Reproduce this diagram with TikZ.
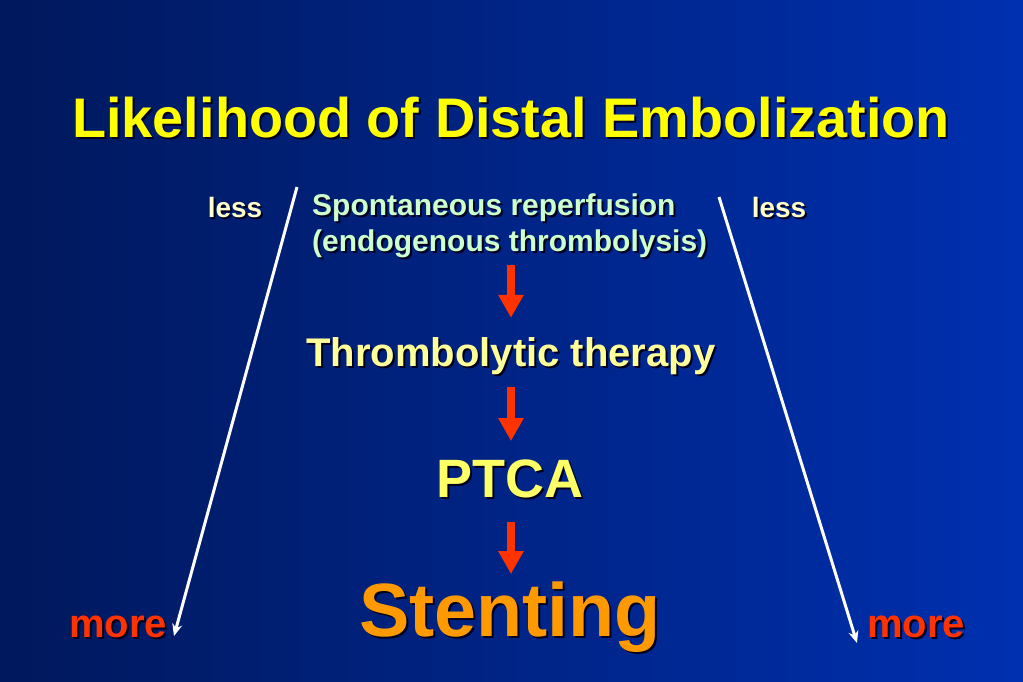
\documentclass[tikz,border=0pt]{standalone}
\usepackage{fontspec}
\setmainfont{Liberation Sans}
\usetikzlibrary{arrows.meta,positioning}
\definecolor{bgleft}{RGB}{0,24,92}
\definecolor{bgright}{RGB}{0,48,176}
\definecolor{titleyellow}{RGB}{255,255,0}
\definecolor{lesscream}{RGB}{255,255,204}
\definecolor{spontgreen}{RGB}{204,255,204}
\definecolor{thrombyellow}{RGB}{255,255,153}
\definecolor{ptcayellow}{RGB}{255,255,102}
\definecolor{stentorange}{RGB}{255,153,0}
\definecolor{morered}{RGB}{255,51,0}
\definecolor{textshade}{RGB}{0,0,30}
\newcommand\shadowed[2]{\leavevmode\rlap{\smash{\kern2pt\raisebox{-2pt}{\color{textshade}#2}}}{\color{#1}#2}}
\tikzset{
    every picture/.style={x=1pt,y=-1pt},
    slidetext/.style={inner sep=0pt,anchor=base},
    flow/.style={draw=morered,line width=8pt,-{Triangle[length=23pt,width=24pt]}},
    trend/.style={draw=white,line width=3pt,-{Stealth[length=12pt,width=10pt]}}
}

\begin{document}
\begin{tikzpicture}
    \fill[left color=bgleft,right color=bgright] (0,0) rectangle (1023,682);
    \useasboundingbox (0,0) rectangle (1023,682);
    \node[slidetext,font=\bfseries\fontsize{55.8}{60}\selectfont] (title) at (511,138) {\shadowed{titleyellow}{Likelihood of Distal Embolization}};
    \node[inner sep=0pt,anchor=north west,align=left,font=\bfseries\fontsize{30}{36}\selectfont] (spont) at (312,194)
        {\shadowed{spontgreen}{Spontaneous reperfusion}\\\shadowed{spontgreen}{(endogenous thrombolysis)}};
    \node[slidetext,font=\bfseries\fontsize{40}{44}\selectfont]   (thromb) at (511,366) {\shadowed{thrombyellow}{Thrombolytic therapy}};
    \node[slidetext,font=\bfseries\fontsize{54}{58}\selectfont]   (ptca)   at (510,497) {\shadowed{ptcayellow}{PTCA}};
    \node[slidetext,font=\bfseries\fontsize{75.5}{80}\selectfont] (stent)  at (510,636) {\shadowed{stentorange}{Stenting}};
    \node[slidetext,font=\bfseries\fontsize{28}{32}\selectfont]   (lessL)  at (235,217) {\shadowed{lesscream}{less}};
    \node[slidetext,font=\bfseries\fontsize{28}{32}\selectfont]   (lessR)  at (779,217) {\shadowed{lesscream}{less}};
    \node[slidetext,font=\bfseries\fontsize{40}{44}\selectfont]   (moreL)  at (118,637) {\shadowed{morered}{more}};
    \node[slidetext,font=\bfseries\fontsize{40}{44}\selectfont]   (moreR)  at (916,637) {\shadowed{morered}{more}};
    % trend lines from less to more
    \coordinate (topL) at (297,187);
    \coordinate (botL) at (174,636);
    \coordinate (topR) at (719,197);
    \coordinate (botR) at (857,643);
    \draw[trend] (topL) -- (botL);
    \draw[trend] (topR) -- (botR);
    % red steps
    \draw[flow,shorten <=7pt,shorten >=19pt]  (spont.south -| thromb.north) -- (thromb.north);
    \draw[flow,shorten <=12pt,shorten >=18pt] (thromb.south) -- (thromb.south |- ptca.north);
    \draw[flow,shorten <=24pt,shorten >=7pt]  (ptca.south -| thromb.south) -- (thromb.south |- stent.north);
\end{tikzpicture}
\end{document}
